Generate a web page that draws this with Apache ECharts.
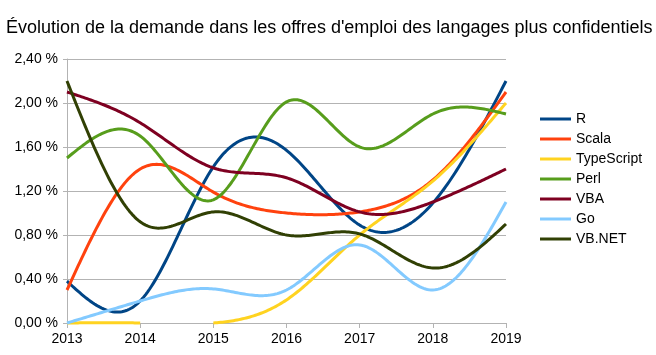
<!DOCTYPE html>
<html>
<head>
<meta charset="utf-8">
<script src="https://cdn.jsdelivr.net/npm/echarts@6/dist/echarts.min.js"></script>
<style>
html,body{margin:0;padding:0;background:#fff;}
#chart{width:656px;height:355px;}
</style>
</head>
<body>
<div id="chart"></div>
<script>
const titleText = "Évolution de la demande dans les offres d'emploi des langages plus confidentiels";
const years = ['2013','2014','2015','2016','2017','2018','2019'];
const yTicks = [0, 0.4, 0.8, 1.2, 1.6, 2.0, 2.4];
const seriesNames = ['R','Scala','TypeScript','Perl','VBA','Go','VB.NET'];
const seriesColors = ['#004586','#ff420e','#ffd320','#579d1c','#7e0021','#83caff','#314004'];
const R          = [0.38, 0.20, 1.42, 1.57, 0.89, 1.09, 2.20];
const Scala      = [0.30, 1.40, 1.19, 1.00, 1.01, 1.30, 2.10];
const TypeScript = [0.00, 0.00, 0.00, 0.21, 0.80, 1.29, 2.00];
const Perl       = [1.50, 1.70, 1.12, 2.01, 1.60, 1.90, 1.90];
const VBA        = [2.10, 1.82, 1.41, 1.32, 1.01, 1.10, 1.40];
const Go         = [0.00, 0.20, 0.31, 0.30, 0.71, 0.30, 1.10];
const VBNET      = [2.20, 0.92, 1.01, 0.80, 0.81, 0.50, 0.90];
const seriesData = [R, Scala, TypeScript, Perl, VBA, Go, VBNET];
const Y_MIN = yTicks[0], Y_MAX = yTicks[yTicks.length - 1];

// natural cubic spline second derivatives (uniform spacing, h = 1)
function splineM(y) {
  const n = y.length - 1;
  const M = new Array(n + 1).fill(0);
  if (n < 2) return M;
  const a = [], b = [], c = [], d = [];
  for (let i = 1; i < n; i++) {
    a.push(1); b.push(4); c.push(1);
    d.push(6 * (y[i - 1] - 2 * y[i] + y[i + 1]));
  }
  const m = d.length;
  for (let i = 1; i < m; i++) {
    const w = a[i] / b[i - 1];
    b[i] -= w * c[i - 1];
    d[i] -= w * d[i - 1];
  }
  const sol = new Array(m);
  sol[m - 1] = d[m - 1] / b[m - 1];
  for (let i = m - 2; i >= 0; i--) sol[i] = (d[i] - c[i] * sol[i + 1]) / b[i];
  for (let i = 1; i < n; i++) M[i] = sol[i - 1];
  return M;
}

function makeRenderer(values) {
  const M = splineM(values);
  return function (params, api) {
    if (params.dataIndex !== 0) return null;
    const pieces = [];
    let cur = [];
    const STEPS = 40;
    const y0 = api.coord([0, 0])[1];
    const y1 = api.coord([0, 1])[1];
    for (let i = 0; i < values.length - 1; i++) {
      const xa = api.coord([i, values[i]])[0];
      const xb = api.coord([i + 1, values[i + 1]])[0];
      for (let s = (i === 0 ? 0 : 1); s <= STEPS; s++) {
        const t = s / STEPS;
        const u = 1 - t;
        const v = u * values[i] + t * values[i + 1] +
          ((u * u * u - u) * M[i] + (t * t * t - t) * M[i + 1]) / 6;
        if (v < Y_MIN - 1e-9 || v > Y_MAX + 1e-9) {
          if (cur.length > 1) pieces.push(cur);
          cur = [];
        } else {
          cur.push([xa + (xb - xa) * t, y0 + (y1 - y0) * v]);
        }
      }
    }
    if (cur.length > 1) pieces.push(cur);
    return {
      type: 'group',
      silent: true,
      children: pieces.map(p => ({
        type: 'polyline',
        shape: {points: p},
        style: {stroke: api.visual('color'), lineWidth: 3, fill: null, lineJoin: 'round'}
      }))
    };
  };
}

const chart = echarts.init(document.getElementById('chart'), null, {renderer:'canvas'});
const FONT = 'Liberation Sans';
chart.setOption({
  animation: false,
  backgroundColor: '#ffffff',
  title: {
    text: titleText,
    left: 1, top: 14,
    textStyle: {fontFamily: FONT, fontSize: 18, fontWeight: 'normal', color: '#000'}
  },
  legend: {
    orient: 'vertical',
    left: 535, top: 107,
    icon: 'rect',
    itemWidth: 31, itemHeight: 3,
    itemGap: 6,
    data: seriesNames,
    textStyle: {fontFamily: FONT, fontSize: 14, color: '#000'}
  },
  grid: {left: 67, right: 150, top: 59, bottom: 32, containLabel: false},
  xAxis: {
    type: 'category',
    data: years,
    boundaryGap: false,
    axisLine: {lineStyle: {color: '#b3b3b3', width: 1}},
    axisTick: {show: true, length: 5, lineStyle: {color: '#b3b3b3'}},
    axisLabel: {fontFamily: FONT, fontSize: 14, color: '#000', margin: 9},
    splitLine: {show: false}
  },
  yAxis: {
    type: 'value',
    min: Y_MIN, max: Y_MAX, interval: 0.4,
    axisLine: {show: true, lineStyle: {color: '#b3b3b3'}},
    axisTick: {show: true, length: 4, lineStyle: {color: '#b3b3b3'}},
    axisLabel: {fontFamily: FONT, fontSize: 14, color: '#000', margin: 9,
      formatter: v => v.toFixed(2).replace('.', ',') + ' %'},
    splitLine: {show: true, lineStyle: {color: '#b3b3b3', width: 1}}
  },
  series: seriesNames.map((n, i) => ({
    name: n,
    type: 'custom',
    data: seriesData[i].map((v, k) => [k, v]),
    encode: {x: 0, y: 1},
    itemStyle: {color: seriesColors[i]},
    renderItem: makeRenderer(seriesData[i])
  }))
});
</script>
</body>
</html>
